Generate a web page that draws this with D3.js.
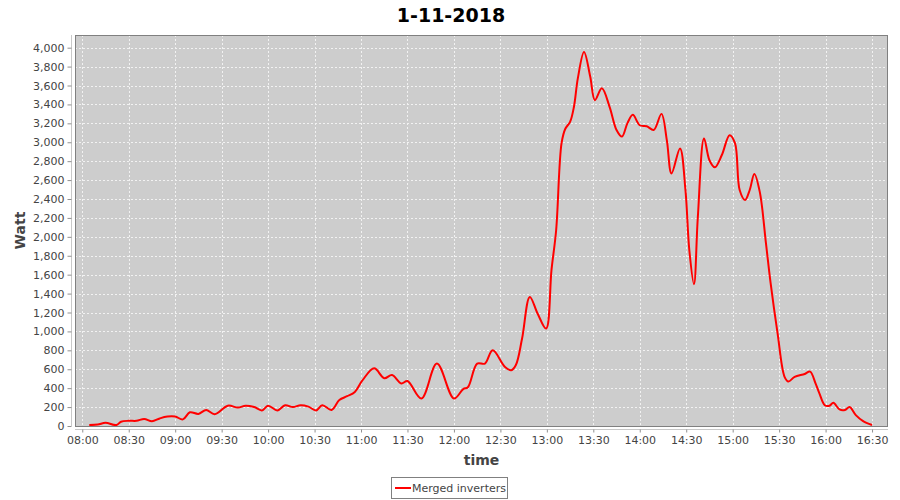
<!DOCTYPE html>
<html>
<head>
<meta charset="utf-8">
<script src="https://cdn.jsdelivr.net/npm/d3@7"></script>
<style>
  html, body { margin: 0; padding: 0; background: #ffffff; }
  svg { display: block; }
</style>
</head>
<body>
<svg id="chart" width="900" height="500"></svg>
<script>
// ---- Data ----
const chartTitle = "1-11-2018";
const seriesName = "Merged inverters";
const times = [
  "08:04:30","08:10:00","08:15:00","08:22:00","08:25:00","08:30:00","08:35:00","08:40:00","08:45:00","08:50:00",
  "08:55:00","09:00:00","09:05:00","09:09:30","09:15:00","09:20:00","09:25:30","09:34:00","09:40:30","09:45:30",
  "09:51:00","09:56:00","10:00:00","10:06:00","10:11:00","10:16:00","10:21:00","10:26:00","10:31:00","10:35:00",
  "10:41:00","10:46:00","10:51:00","10:56:00","11:01:00","11:08:30","11:15:00","11:20:00","11:26:00","11:30:00",
  "11:39:00","11:49:00","12:00:00","12:06:00","12:09:00","12:15:00","12:20:00","12:25:00","12:33:00","12:37:00",
  "12:40:00","12:44:00","12:49:00","12:54:00","12:59:30","13:03:00","13:06:00","13:09:30","13:12:00","13:15:00",
  "13:17:30","13:20:00","13:24:00","13:28:00","13:31:00","13:35:30","13:40:30","13:45:00","13:48:30","13:52:00",
  "13:55:30","14:00:00","14:04:30","14:09:00","14:14:00","14:17:30","14:20:30","14:26:00","14:29:30","14:32:00",
  "14:35:00","14:37:30","14:41:30","14:45:00","14:48:30","14:53:00","14:58:00","15:01:30","15:04:30","15:08:00",
  "15:11:00","15:14:00","15:17:30","15:21:30","15:24:30","15:29:00","15:33:30","15:36:00","15:40:00","15:46:30",
  "15:50:00","15:53:30","15:56:00","15:59:30","16:02:30","16:05:00","16:09:00","16:12:30","16:15:30","16:19:30",
  "16:24:00","16:30:00"
];
const watts = [
  10, 15, 35, 10, 45, 55, 55, 75, 50, 80,
  100, 100, 70, 145, 128, 170, 125, 215, 195, 215,
  200, 165, 215, 165, 220, 200, 220, 205, 165, 220,
  170, 275, 315, 360, 485, 610, 505, 540, 450, 475,
  290, 660, 290, 390, 410, 660, 660, 800, 625, 590,
  645, 925, 1365, 1190, 1030, 1650, 2070, 2990, 3145, 3215,
  3375, 3675, 3955, 3695, 3445, 3570, 3375, 3130, 3060, 3200,
  3290, 3180, 3170, 3130, 3300, 3020, 2670, 2935, 2495, 1860,
  1500, 2210, 3040, 2810, 2735, 2865, 3075, 2990, 2495, 2390,
  2495, 2665, 2475, 1930, 1510, 980, 520, 470, 520, 550,
  575, 450, 345, 220, 215, 245, 175, 170, 200, 115,
  55, 10
];
const xTickLabels = ["08:00","08:30","09:00","09:30","10:00","10:30","11:00","11:30","12:00",
  "12:30","13:00","13:30","14:00","14:30","15:00","15:30","16:00","16:30"];
const yTickValues = d3.range(0, 4001, 200);
const xAxisLabel = "time";
const yAxisLabel = "Watt";

// ---- Layout ----
const plot = { left: 75, right: 888, top: 35, bottom: 426 };
const parseT = d3.timeParse("%H:%M:%S");
const parseHM = d3.timeParse("%H:%M");
const data = times.map((t, i) => ({ t: parseT(t), v: watts[i] }));

const x = d3.scaleTime()
  .domain([parseT("07:55:18"), parseT("16:40:18")])
  .range([plot.left, plot.right]);
const y = d3.scaleLinear()
  .domain([0, 4134])
  .range([plot.bottom, plot.top]);

const svg = d3.select("#chart");
svg.append("rect").attr("width", 900).attr("height", 500).attr("fill", "#ffffff");

// plot background
svg.append("rect")
  .attr("x", plot.left).attr("y", plot.top)
  .attr("width", plot.right - plot.left).attr("height", plot.bottom - plot.top)
  .attr("fill", "#cdcdcd");

const xTicks = xTickLabels.map(parseHM);

// gridlines
const grid = svg.append("g");
grid.selectAll("line.v").data(xTicks).enter().append("line")
  .attr("x1", d => Math.round(x(d)) + 0.5).attr("x2", d => Math.round(x(d)) + 0.5)
  .attr("y1", plot.top).attr("y2", plot.bottom)
  .attr("stroke", "#f2f2f2").attr("stroke-width", 1).attr("stroke-dasharray", "2,2");
grid.selectAll("line.h").data(yTickValues).enter().append("line")
  .attr("y1", d => Math.round(y(d)) + 0.5).attr("y2", d => Math.round(y(d)) + 0.5)
  .attr("x1", plot.left).attr("x2", plot.right)
  .attr("stroke", "#f2f2f2").attr("stroke-width", 1).attr("stroke-dasharray", "2,2");

// line
svg.append("clipPath").attr("id", "clip").append("rect")
  .attr("x", plot.left).attr("y", plot.top)
  .attr("width", plot.right - plot.left).attr("height", plot.bottom - plot.top);

const line = d3.line()
  .x(d => x(d.t)).y(d => y(d.v))
  .curve(d3.curveCatmullRom.alpha(0.5));
svg.append("path")
  .datum(data)
  .attr("clip-path", "url(#clip)")
  .attr("fill", "none")
  .attr("stroke", "#ff0000")
  .attr("stroke-width", 2)
  .attr("stroke-linejoin", "round")
  .attr("d", line);

// plot outline
svg.append("rect")
  .attr("x", plot.left + 0.5).attr("y", plot.top + 0.5)
  .attr("width", plot.right - plot.left - 1).attr("height", plot.bottom - plot.top)
  .attr("fill", "none").attr("stroke", "#808080").attr("stroke-width", 1);

const fontFam = "'DejaVu Sans', sans-serif";

// y axis
const yAxis = d3.axisLeft(y)
  .tickValues(yTickValues)
  .tickSize(4)
  .tickPadding(3)
  .tickFormat(d3.format(","));
const gy = svg.append("g").attr("transform", "translate(71.5,0)").call(yAxis);
gy.select(".domain").attr("stroke", "#c8c8c8").attr("d", `M0,${plot.top}V${plot.bottom}`);
gy.selectAll(".tick line").attr("stroke", "#909090");
gy.selectAll(".tick text").attr("fill", "#444444").style("font", `11px ${fontFam}`);

// x axis
const xAxis = d3.axisBottom(x)
  .tickValues(xTicks)
  .tickSize(3)
  .tickPadding(4)
  .tickFormat(d3.timeFormat("%H:%M"));
const gx = svg.append("g").attr("transform", "translate(0,429.5)").call(xAxis);
gx.select(".domain").attr("stroke", "#c8c8c8").attr("d", `M${plot.left},0H${plot.right}`);
gx.selectAll(".tick line").attr("stroke", "#909090");
gx.selectAll(".tick text").attr("fill", "#444444").style("font", `11px ${fontFam}`);

// title
svg.append("text")
  .attr("x", 451).attr("y", 22)
  .attr("text-anchor", "middle")
  .style("font", `bold 19px ${fontFam}`)
  .attr("fill", "#000000")
  .text(chartTitle);

// axis labels
svg.append("text")
  .attr("x", (plot.left + plot.right) / 2).attr("y", 465)
  .attr("text-anchor", "middle")
  .style("font", `bold 14px ${fontFam}`)
  .attr("fill", "#444444")
  .text(xAxisLabel);
svg.append("text")
  .attr("transform", `translate(25,${(plot.top + plot.bottom) / 2}) rotate(-90)`)
  .attr("text-anchor", "middle")
  .style("font", `bold 14px ${fontFam}`)
  .attr("fill", "#444444")
  .text(yAxisLabel);

// legend
const lg = svg.append("g");
lg.append("rect")
  .attr("x", 391.5).attr("y", 477.5).attr("width", 116).attr("height", 21)
  .attr("fill", "#ffffff").attr("stroke", "#808080").attr("stroke-width", 1);
lg.append("line")
  .attr("x1", 395).attr("x2", 411).attr("y1", 488).attr("y2", 488)
  .attr("stroke", "#ff0000").attr("stroke-width", 2);
lg.append("text")
  .attr("x", 412).attr("y", 492)
  .style("font", `11px ${fontFam}`)
  .attr("fill", "#444444")
  .text(seriesName);
</script>
</body>
</html>
